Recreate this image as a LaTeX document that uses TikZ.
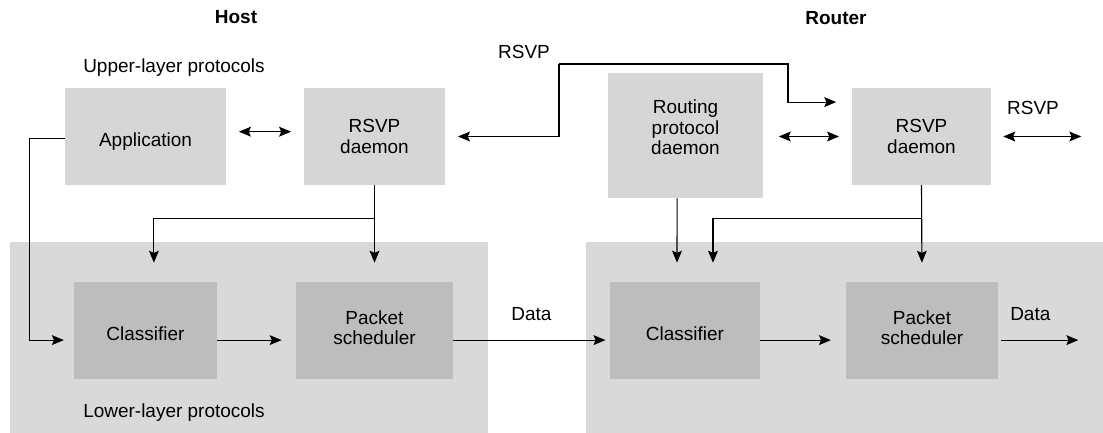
\documentclass[tikz,border=0pt]{standalone}
\usepackage{fontspec}
\setmainfont{Liberation Sans}
\usepackage{tikz}
\usetikzlibrary{arrows.meta}
\definecolor{daemongray}{RGB}{214, 214, 214}
\definecolor{layergray}{RGB}{217, 217, 217}
\definecolor{modulegray}{RGB}{189, 189, 189}

\begin{document}
\begin{tikzpicture}[
    x=0.025cm, y=-0.025cm,
    font=\fontsize{13.5}{14.5}\selectfont,
    daemon/.style={rectangle, fill=daemongray, minimum height=2.425cm, align=center, inner sep=0pt},
    layer/.style={rectangle, fill=layergray, minimum height=4.775cm, inner sep=0pt},
    module/.style={rectangle, fill=modulegray, minimum height=2.425cm, align=center, inner sep=0pt},
    oneline/.style={text height=14pt, text depth=0pt},
    title/.style={font=\fontsize{13.5}{14.5}\selectfont\bfseries},
    arrow/.style={-{Stealth[length=8.5pt, width=7pt, inset=1.5pt]}, line width=0.8pt},
    twoway/.style={{Stealth[length=8.5pt, width=7pt, inset=1.5pt]}-{Stealth[length=8.5pt, width=7pt, inset=1.5pt]}, line width=0.8pt}
]
\useasboundingbox (0,0) rectangle (1103,433);

% Lower layers
\node[layer, minimum width=11.95cm] (hostlow) at (249,337.5) {};
\node[layer, minimum width=12.925cm] (routerlow) at (844.5,337.5) {};

% Titles and labels
\node[title] (host) at (236,17) {Host};
\node[title] (router) at (836,18) {Router};
\node (upper) at (174,68) {Upper-layer protocols};
\node (lower) at (174,413) {Lower-layer protocols};
\node (rsvplabel) at (524,52) {RSVP};
\node (rsvpright) at (1033,108) {RSVP};

% Host
\node[daemon, oneline, minimum width=4.025cm] (app) at (145.5,136.5) {Application};
\node[daemon, minimum width=3.525cm] (hrsvp) at (374.5,136.5) {RSVP\\daemon};
\node[module, oneline, minimum width=3.575cm] (hclass) at (145.5,330.5) {Classifier};
\node[module, minimum width=3.925cm, text depth=4.3pt] (hsched) at (374.5,330.5) {Packet\\scheduler};

% Router
\node[daemon, minimum width=3.875cm, minimum height=3.125cm, text depth=11.4pt] (routing) at (685.5,135.5) {Routing\\protocol\\daemon};
\node[daemon, minimum width=3.475cm] (rrsvp) at (921.5,136.5) {RSVP\\daemon};
\node[module, oneline, minimum width=3.75cm] (rclass) at (685,330.5) {Classifier};
\node[module, minimum width=3.8cm, text depth=4.3pt] (rsched) at (922,330.5) {Packet\\scheduler};

% Free ends
\coordinate (rsvpin) at (559,64);
\coordinate (rsvpout) at ([xshift=2.25cm]rrsvp.east);
\coordinate (dataout) at ([xshift=2cm, yshift=-0.24cm]rsched.east);

% Connections, host
\draw[twoway, shorten <=9pt, shorten >=9pt] ([yshift=0.12cm]app.east) -- ([yshift=0.12cm]hrsvp.west);
\draw[arrow, shorten >=9pt] (rsvpin) |- (hrsvp.east);
\draw[arrow, shorten >=7pt] ([yshift=-0.06cm]app.west) -- ++(-35,0) |- ([yshift=-0.24cm]hclass.west);
\draw[arrow, shorten >=13.5pt] (hrsvp.south) -- (hsched.north);
\draw[arrow, shorten >=13.5pt] (hrsvp.south) -- ++(0,33) -| ([xshift=0.21cm]hclass.north);
\draw[arrow, shorten >=10pt] ([yshift=-0.24cm]hclass.east) -- ([yshift=-0.24cm]hsched.west);
\draw[arrow, shorten >=3pt] ([yshift=-0.24cm]hsched.east) -- ([yshift=-0.24cm]rclass.west) node[midway, yshift=0.65cm] {Data};

% Connections, router
\draw[arrow, shorten >=11pt] (rsvpin) -- ++(229,0) |- ([yshift=0.86cm]rrsvp.west);
\draw[twoway, shorten <=11pt, shorten >=9pt] (routing.east |- rrsvp.west) -- (rrsvp.west);
\draw[twoway, shorten <=8.5pt] (rrsvp) -- (rsvpout);
\draw[arrow, shorten >=13.5pt] ([xshift=-0.21cm]routing.south) -- ([xshift=-0.2cm]rclass.north);
\draw[arrow, shorten >=13.5pt] (rrsvp.south) -- (rsched.north);
\draw[arrow, shorten >=13.5pt] (rrsvp.south) -- ++(0,33) -| ([xshift=0.7cm]rclass.north);
\draw[arrow, shorten >=10.5pt] ([yshift=-0.24cm]rclass.east) -- ([yshift=-0.24cm]rsched.west);
\draw[arrow, shorten <=2pt] ([yshift=-0.24cm]rsched.east) -- (dataout) node[pos=0.4, yshift=0.65cm] {Data};

\end{tikzpicture}
\end{document}
